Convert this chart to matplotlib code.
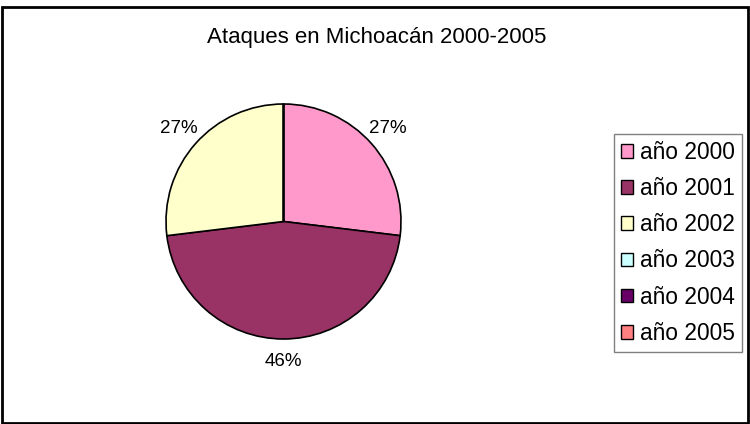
import matplotlib
matplotlib.use("Agg")
import matplotlib.pyplot as plt
from matplotlib.patches import Rectangle

plt.rcParams['font.family'] = ['Liberation Sans', 'DejaVu Sans']

title = "Ataques en Michoacán 2000-2005"
categories = ["año 2000", "año 2001", "año 2002", "año 2003", "año 2004", "año 2005"]
values = [7, 12, 7, 0, 0, 0]
colors = ["#FF99CC", "#993366", "#FFFFCC", "#CCFFFF", "#660066", "#FF8080"]

W, H = 750, 424
fig = plt.figure(figsize=(W / 100, H / 100), dpi=100)
fig.patch.set_facecolor("white")

cx, cy, r = 283.5, 221.5, 117.5
ax = fig.add_axes([(cx - r) / W, 1 - (cy + r) / H, 2 * r / W, 2 * r / H])

def fmt(p):
    return f"{p:.0f}%" if p > 0 else ""

wedges, texts, autotexts = ax.pie(
    values, colors=colors, startangle=90, counterclock=False,
    autopct=fmt, pctdistance=1.19,
    wedgeprops=dict(edgecolor="black", linewidth=1.2),
    textprops=dict(fontsize=13.5, color="black"),
)
ax.set_xlim(-1, 1)
ax.set_ylim(-1, 1)
ax.set_aspect("auto")
ax.axis("off")

fig.text(377 / W, 1 - 37 / H, title, ha="center", va="center", fontsize=16)

# outer frame
fig.add_artist(Rectangle((1.5 / W, 1 - 422.5 / H), 746.5 / W, 416 / H,
                         transform=fig.transFigure, fill=False,
                         edgecolor="black", linewidth=2))

leg = fig.legend(wedges, categories, loc="upper left",
                 bbox_to_anchor=(614 / W, 1 - 134 / H), borderaxespad=0,
                 fontsize=16.4, handlelength=0.55, handleheight=0.55,
                 handletextpad=0.3, labelspacing=0.58, borderpad=0.3,
                 frameon=True, fancybox=False, framealpha=1)
leg.get_frame().set_edgecolor("#808080")
leg.get_frame().set_linewidth(1)
for h in leg.legend_handles:
    h.set_edgecolor("black")
    h.set_linewidth(1)

fig.savefig("out.png", dpi=100, facecolor="white")
